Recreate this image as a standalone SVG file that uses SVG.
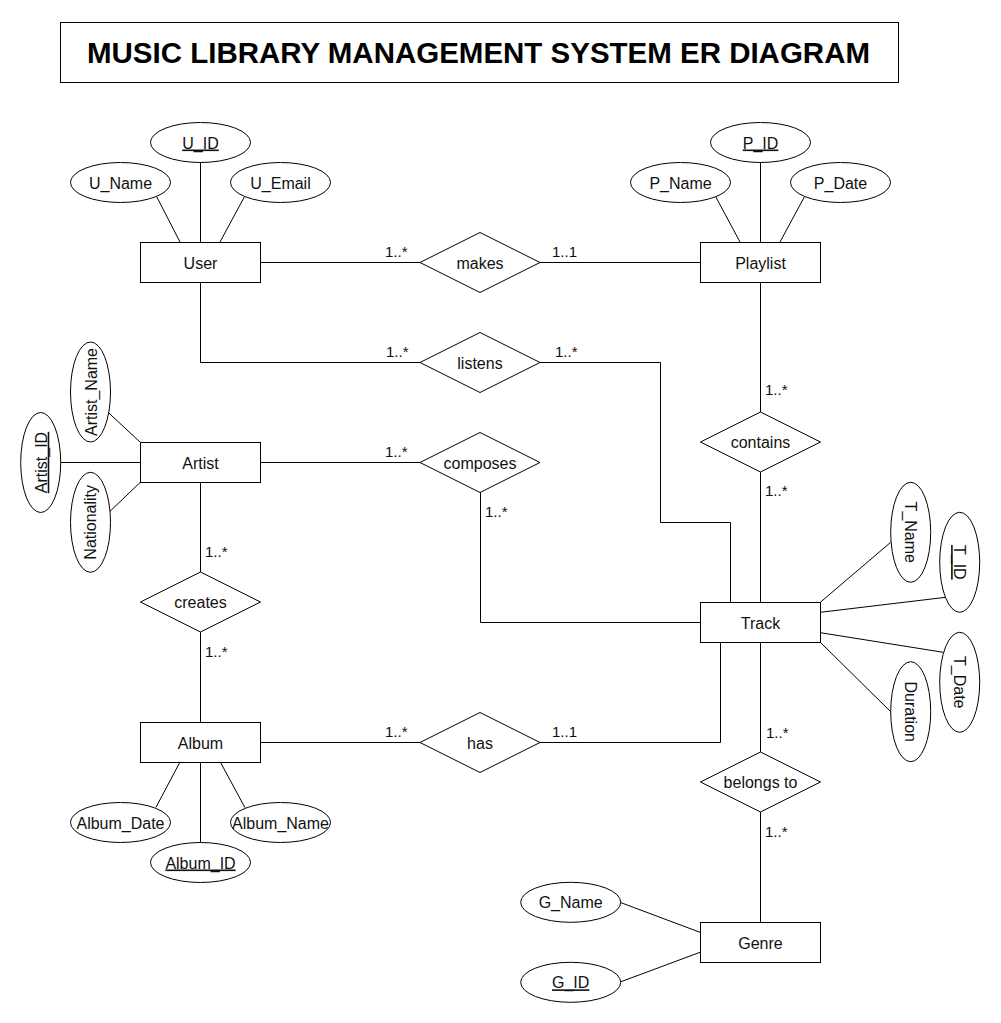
<svg xmlns="http://www.w3.org/2000/svg" width="1001" height="1023" viewBox="0 0 1001 1023">
<style>
  .box{fill:#fff;stroke:#000;stroke-width:1}
  .ell{fill:#fff;stroke:#000;stroke-width:1}
  .dia{fill:#fff;stroke:#000;stroke-width:1}
  .ln{fill:none;stroke:#000;stroke-width:1}
  text{font-family:"Liberation Sans",Arial,Helvetica,sans-serif;fill:#111}
  .t{font-size:16px;text-anchor:middle}
  .k{text-decoration:underline}
  .c{font-size:15px}
  .title{font-size:29px;font-weight:bold;text-anchor:middle;fill:#000}
</style>
<rect width="1001" height="1023" fill="#fff"/>
<g id="title">
  <rect class="box" x="60.5" y="22.5" width="838" height="60"/>
  <text class="title" x="478.5" y="62.5" textLength="783" lengthAdjust="spacingAndGlyphs">MUSIC LIBRARY MANAGEMENT SYSTEM ER DIAGRAM</text>
</g>
<g id="connectors">
  <line class="ln" x1="200.5" y1="162" x2="200.5" y2="242"/>
  <line class="ln" x1="156.7" y1="196.7" x2="180" y2="242"/>
  <line class="ln" x1="244.3" y1="197" x2="220" y2="242"/>
  <line class="ln" x1="760.5" y1="162" x2="760.5" y2="242"/>
  <line class="ln" x1="715.7" y1="196.7" x2="740" y2="242"/>
  <line class="ln" x1="804.3" y1="197" x2="780" y2="242"/>
  <line class="ln" x1="108.5" y1="412.7" x2="140.3" y2="442.3"/>
  <line class="ln" x1="60.7" y1="462.5" x2="140" y2="462.5"/>
  <line class="ln" x1="109.6" y1="511.7" x2="140.3" y2="482.3"/>
  <line class="ln" x1="200.5" y1="762" x2="200.5" y2="842"/>
  <line class="ln" x1="156" y1="807.3" x2="180" y2="762"/>
  <line class="ln" x1="245" y1="807.7" x2="220.3" y2="762"/>
  <line class="ln" x1="820.3" y1="602.3" x2="890.7" y2="542.3"/>
  <line class="ln" x1="820.3" y1="612.3" x2="945.7" y2="597.3"/>
  <line class="ln" x1="820.3" y1="632.7" x2="943.3" y2="652.3"/>
  <line class="ln" x1="820.3" y1="642.3" x2="890.7" y2="711.7"/>
  <line class="ln" x1="621" y1="902.7" x2="700" y2="932.3"/>
  <line class="ln" x1="621" y1="981.7" x2="700" y2="952.3"/>
  <line class="ln" x1="260" y1="262.5" x2="420" y2="262.5"/>
  <line class="ln" x1="540" y1="262.5" x2="700" y2="262.5"/>
  <polyline class="ln" points="200.5,282 200.5,362.5 420,362.5"/>
  <polyline class="ln" points="540,362.5 660.5,362.5 660.5,522.5 730.5,522.5 730.5,602"/>
  <line class="ln" x1="260" y1="462.5" x2="420" y2="462.5"/>
  <polyline class="ln" points="480.5,492 480.5,622.5 700,622.5"/>
  <line class="ln" x1="200.5" y1="482" x2="200.5" y2="572"/>
  <line class="ln" x1="200.5" y1="632" x2="200.5" y2="722"/>
  <line class="ln" x1="260" y1="742.5" x2="420" y2="742.5"/>
  <polyline class="ln" points="540,742.5 720.5,742.5 720.5,642"/>
  <line class="ln" x1="760.5" y1="282" x2="760.5" y2="412"/>
  <line class="ln" x1="760.5" y1="472" x2="760.5" y2="602"/>
  <line class="ln" x1="760.5" y1="642" x2="760.5" y2="752"/>
  <line class="ln" x1="760.5" y1="812" x2="760.5" y2="922"/>
  <text class="c" x="385" y="256.7">1..*</text>
  <text class="c" x="552" y="256.7">1..1</text>
  <text class="c" x="386" y="356.7">1..*</text>
  <text class="c" x="555" y="356.7">1..*</text>
  <text class="c" x="385" y="456.7">1..*</text>
  <text class="c" x="485" y="516.5">1..*</text>
  <text class="c" x="205" y="556.7">1..*</text>
  <text class="c" x="205" y="657">1..*</text>
  <text class="c" x="385" y="737">1..*</text>
  <text class="c" x="552" y="737">1..1</text>
  <text class="c" x="765" y="395">1..*</text>
  <text class="c" x="765" y="496">1..*</text>
  <text class="c" x="766" y="738">1..*</text>
  <text class="c" x="765" y="837">1..*</text>
</g>
<g id="user">
  <rect class="box" x="140.5" y="242.5" width="120" height="40"/>
  <text class="t" x="200.5" y="268.5">User</text>
</g>
<g id="u_id">
  <ellipse class="ell" cx="200.5" cy="142.5" rx="50" ry="20"/>
  <text class="t k" x="200.5" y="148.5">U_ID</text>
</g>
<g id="u_name">
  <ellipse class="ell" cx="120.5" cy="182.5" rx="50" ry="20"/>
  <text class="t" x="120.5" y="188.5">U_Name</text>
</g>
<g id="u_email">
  <ellipse class="ell" cx="280.5" cy="182.5" rx="50" ry="20"/>
  <text class="t" x="280.5" y="188.5">U_Email</text>
</g>
<g id="playlist">
  <rect class="box" x="700.5" y="242.5" width="120" height="40"/>
  <text class="t" x="760.5" y="268.5">Playlist</text>
</g>
<g id="p_id">
  <ellipse class="ell" cx="760.5" cy="142.5" rx="50" ry="20"/>
  <text class="t k" x="760.5" y="148.5">P_ID</text>
</g>
<g id="p_name">
  <ellipse class="ell" cx="680.5" cy="182.5" rx="50" ry="20"/>
  <text class="t" x="680.5" y="188.5">P_Name</text>
</g>
<g id="p_date">
  <ellipse class="ell" cx="840.5" cy="182.5" rx="50" ry="20"/>
  <text class="t" x="840.5" y="188.5">P_Date</text>
</g>
<g id="makes">
  <polygon class="dia" points="480,232.5 540,262.5 480,292.5 420,262.5"/>
  <text class="t" x="480" y="268.5">makes</text>
</g>
<g id="listens">
  <polygon class="dia" points="480,332.5 540,362.5 480,392.5 420,362.5"/>
  <text class="t" x="480" y="368.5">listens</text>
</g>
<g id="composes">
  <polygon class="dia" points="480,432.5 540,462.5 480,492.5 420,462.5"/>
  <text class="t" x="480" y="468.5">composes</text>
</g>
<g id="artist">
  <rect class="box" x="140.5" y="442.5" width="120" height="40"/>
  <text class="t" x="200.5" y="468.5">Artist</text>
</g>
<g id="artist_name">
  <ellipse class="ell" cx="90.5" cy="392" rx="20" ry="50"/>
  <text class="t" x="90.5" y="398" transform="rotate(-90 90.5 392)">Artist_Name</text>
</g>
<g id="artist_id">
  <ellipse class="ell" cx="40.7" cy="462.5" rx="20" ry="50"/>
  <text class="t k" x="40.7" y="468.5" transform="rotate(-90 40.7 462.5)">Artist_ID</text>
</g>
<g id="nationality">
  <ellipse class="ell" cx="90.5" cy="522.3" rx="20" ry="50"/>
  <text class="t" x="90.5" y="528.3" transform="rotate(-90 90.5 522.3)">Nationality</text>
</g>
<g id="creates">
  <polygon class="dia" points="200.5,572 260.5,602 200.5,632 140.5,602"/>
  <text class="t" x="200.5" y="608">creates</text>
</g>
<g id="album">
  <rect class="box" x="140.5" y="722.5" width="120" height="40"/>
  <text class="t" x="200.5" y="748.5">Album</text>
</g>
<g id="album_date">
  <ellipse class="ell" cx="120.5" cy="822.5" rx="50" ry="20"/>
  <text class="t" x="120.5" y="828.5">Album_Date</text>
</g>
<g id="album_name">
  <ellipse class="ell" cx="280.5" cy="822.5" rx="50" ry="20"/>
  <text class="t" x="280.5" y="828.5">Album_Name</text>
</g>
<g id="album_id">
  <ellipse class="ell" cx="200.5" cy="862.5" rx="50" ry="20"/>
  <text class="t k" x="200.5" y="868.5">Album_ID</text>
</g>
<g id="has">
  <polygon class="dia" points="480,712.5 540,742.5 480,772.5 420,742.5"/>
  <text class="t" x="480" y="748.5">has</text>
</g>
<g id="contains">
  <polygon class="dia" points="760.5,412 820.5,442 760.5,472 700.5,442"/>
  <text class="t" x="760.5" y="448">contains</text>
</g>
<g id="track">
  <rect class="box" x="700.5" y="602.5" width="120" height="40"/>
  <text class="t" x="760.5" y="628.5">Track</text>
</g>
<g id="t_name">
  <ellipse class="ell" cx="910.7" cy="532.3" rx="20" ry="50"/>
  <text class="t" x="910.7" y="538.3" transform="rotate(90 910.7 532.3)">T_Name</text>
</g>
<g id="t_id">
  <ellipse class="ell" cx="959.7" cy="562.3" rx="20" ry="50"/>
  <text class="t k" x="959.7" y="568.3" transform="rotate(90 959.7 562.3)">T_ID</text>
</g>
<g id="t_date">
  <ellipse class="ell" cx="959.7" cy="682.3" rx="20" ry="50"/>
  <text class="t" x="959.7" y="688.3" transform="rotate(90 959.7 682.3)">T_Date</text>
</g>
<g id="duration">
  <ellipse class="ell" cx="910.7" cy="711.7" rx="20" ry="50"/>
  <text class="t" x="910.7" y="717.7" transform="rotate(90 910.7 711.7)">Duration</text>
</g>
<g id="belongs_to">
  <polygon class="dia" points="760.5,752 820.5,782 760.5,812 700.5,782"/>
  <text class="t" x="760.5" y="788">belongs to</text>
</g>
<g id="genre">
  <rect class="box" x="700.5" y="922.5" width="120" height="40"/>
  <text class="t" x="760.5" y="948.5">Genre</text>
</g>
<g id="g_name">
  <ellipse class="ell" cx="570.7" cy="902.3" rx="50" ry="20"/>
  <text class="t" x="570.7" y="908.3">G_Name</text>
</g>
<g id="g_id">
  <ellipse class="ell" cx="570.7" cy="982.3" rx="50" ry="20"/>
  <text class="t k" x="570.7" y="988.3">G_ID</text>
</g>
</svg>
